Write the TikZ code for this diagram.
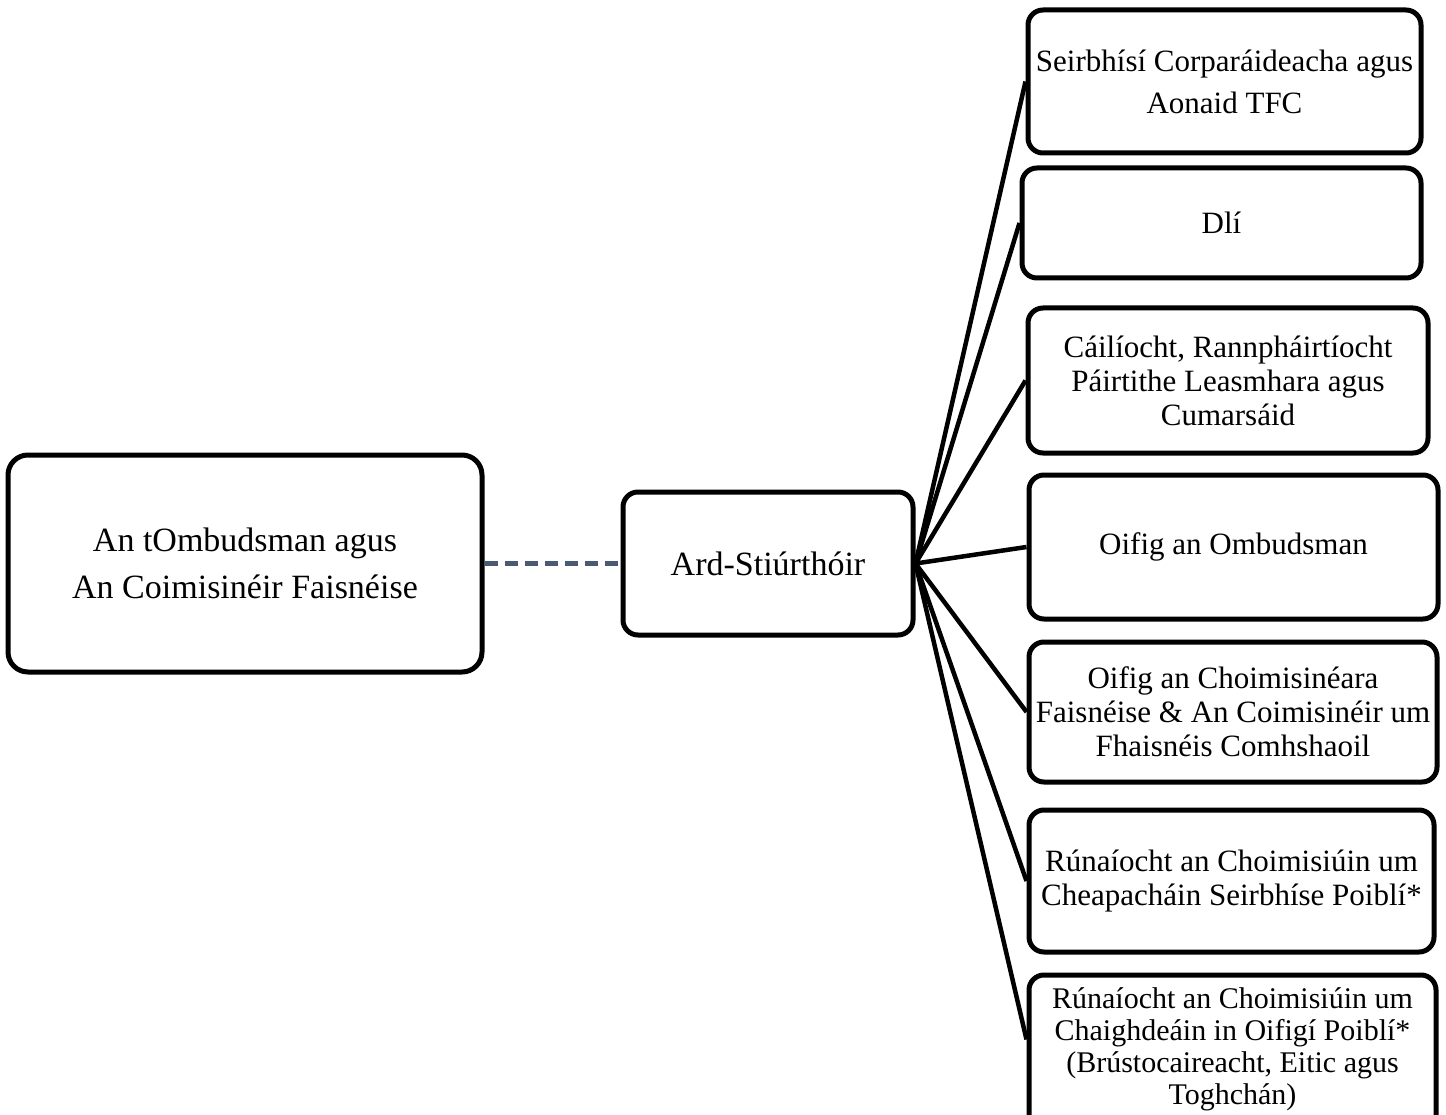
\documentclass[tikz,border=0pt]{standalone}
\usepackage{fontspec}
\setmainfont{Liberation Serif}
\definecolor{slate}{RGB}{74,90,114}
\begin{document}
\begin{tikzpicture}[x=1pt,y=-1pt,
  box/.style={draw, line width=5pt, rounded corners=15pt, align=center, inner sep=0pt},
  rtext/.style={font=\fontsize{31}{34}\selectfont},
  ltext/.style={font=\fontsize{34}{47}\selectfont},
  link/.style={line width=4.5pt},
  dashlink/.style={line width=4.5pt, draw=slate, dash pattern=on 13pt off 7pt}]
\useasboundingbox (0,0) rectangle (1446,1115);
\clip (0,0) rectangle (1446,1115);
\node[box, ltext, minimum width=474pt, minimum height=217pt, rounded corners=20pt] (L) at (245,563.5) {An tOmbudsman agus\\An Coimisinéir Faisnéise};
\node[box, ltext, minimum width=290pt, minimum height=143pt] (ard) at (768,563.5) {Ard-Stiúrthóir};
\node[box, rtext, font=\fontsize{31}{42}\selectfont, minimum width=393pt, minimum height=143pt] (b1) at (1224.5,81.5) {Seirbhísí Corparáideacha agus\\Aonaid TFC};
\node[box, rtext, minimum width=399pt, minimum height=110pt] (b2) at (1221.5,223) {Dlí};
\node[box, rtext, minimum width=400pt, minimum height=145pt] (b3) at (1228,380.5) {Cáilíocht, Rannpháirtíocht\\Páirtithe Leasmhara agus\\Cumarsáid};
\node[box, rtext, minimum width=409pt, minimum height=144pt] (b4) at (1233.5,547) {Oifig an Ombudsman};
\node[box, rtext, minimum width=408pt, minimum height=140pt] (b5) at (1233,712) {Oifig an Choimisinéara\\Faisnéise \& An Coimisinéir um\\Fhaisnéis Comhshaoil};
\node[box, rtext, minimum width=405pt, minimum height=142pt] (b6) at (1231.5,881) {Rúnaíocht an Choimisiúin um\\Cheapacháin Seirbhíse Poiblí*};
\node[box, minimum width=407pt, minimum height=190pt] (b7) at (1232.5,1070) {};
\node[font=\fontsize{30}{32}\selectfont, align=center, inner sep=0pt] (b7t) at (1232.5,1049) {Rúnaíocht an Choimisiúin um\\Chaighdeáin in Oifigí Poiblí*\\(Brústocaireacht, Eitic agus\\Toghchán)};
\draw[dashlink] (L.east) -- (ard.west);
\foreach \b in {b1,b2,b3,b4,b5,b6}
  \draw[link] (ard.east) -- (\b.west);
\draw[link] (ard.east) -- ([yshift=-67pt]b7.north west);
\end{tikzpicture}
\end{document}
